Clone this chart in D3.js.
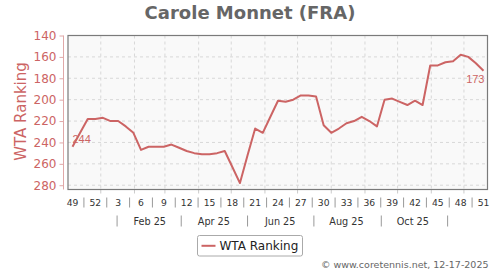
<!DOCTYPE html>
<html>
<head>
<meta charset="utf-8">
<script src="https://cdn.jsdelivr.net/npm/d3@7"></script>
<style>
  body { margin: 0; background: #fff; }
</style>
</head>
<body>
<div id="chart"></div>
<script>
var player = "Carole Monnet (FRA)";
var seriesName = "WTA Ranking";
var credit = "\u00a9 www.coretennis.net, 12-17-2025";

// ISO week numbers, one ranking per week (wk 49 2024 .. wk 51 2025)
var weeks = [49, 50, 51, 52, 1, 2, 3, 4, 5, 6, 7, 8, 9, 10, 11, 12, 13, 14, 15, 16,
  17, 18, 19, 20, 21, 22, 23, 24, 25, 26, 27, 28, 29, 30, 31, 32, 33, 34, 35, 36,
  37, 38, 39, 40, 41, 42, 43, 44, 45, 46, 47, 48, 49, 50, 51];
var ranking = [244, 231, 218, 218, 217, 220, 220, 225, 231, 247, 244, 244, 244, 242, 245, 248, 250, 251, 251, 250,
  248, 263, 278, 252, 227, 231, 216, 201, 202, 200, 196, 196, 197, 224, 231, 227, 222, 220, 216, 220,
  225, 200, 199, 202, 205, 201, 205, 168, 168, 165, 164, 158, 160, 166, 173];
var yTicks = [140, 160, 180, 200, 220, 240, 260, 280];
var monthLabels = ["2025-02", "2025-04", "2025-06", "2025-08", "2025-10"];

var w = 500, h = 270;
var col = "#cc6464";
var font = "DejaVu Sans, Verdana, sans-serif";

var svg = d3.select("#chart").append("svg").attr("width", w).attr("height", h);

var plot = {left: 68, right: 487.5, top: 35.5, bottom: 189.5};

var day = 864e5;
var firstDate = new Date(2024, 11, 6);
var dates = weeks.map(function(d, i) { return new Date(firstDate.getTime() + i * 7 * day); });
var lastDate = dates[dates.length - 1];

var x = d3.scaleTime()
  .domain([new Date(firstDate.getTime() - 4.14 * day), new Date(lastDate.getTime() + 3.68 * day)])
  .range([plot.left, plot.right]);
var y = d3.scaleLinear().domain([140, 284]).range([plot.top, plot.bottom]);

function disptext(tex, xx, yy, c, size, anchor, weight, fam) {
  return svg.append("text")
    .text(tex)
    .attr("x", xx)
    .attr("y", yy)
    .attr("fill", c)
    .attr("font-size", size)
    .attr("text-anchor", anchor || "start")
    .attr("font-weight", weight || "normal")
    .attr("font-family", fam || font);
}

// title
disptext(player, 250, 18.5, "#666", 18, "middle", "bold");

// plot background + grid
svg.append("rect")
  .attr("x", plot.left).attr("y", plot.top)
  .attr("width", plot.right - plot.left).attr("height", plot.bottom - plot.top)
  .attr("fill", "#f9f9f9");

var months = d3.timeMonth.range(new Date(2025, 0, 1), new Date(2025, 11, 2));
svg.selectAll(".vgrid").data(months).enter().append("line")
  .attr("x1", function(d) { return x(d); }).attr("x2", function(d) { return x(d); })
  .attr("y1", plot.top).attr("y2", plot.bottom)
  .attr("stroke", "#d8d8d8").attr("stroke-dasharray", "3,3");
svg.selectAll(".vtick").data(months).enter().append("line")
  .attr("x1", function(d) { return x(d); }).attr("x2", function(d) { return x(d); })
  .attr("y1", plot.bottom).attr("y2", plot.bottom + 4)
  .attr("stroke", "#ccc");

svg.selectAll(".hgrid").data(yTicks.slice(1)).enter().append("line")
  .attr("x1", plot.left).attr("x2", plot.right)
  .attr("y1", function(d) { return y(d); }).attr("y2", function(d) { return y(d); })
  .attr("stroke", "#d8d8d8").attr("stroke-dasharray", "3,3");

// the ranking line
var line = d3.line()
  .x(function(d, i) { return x(dates[i]); })
  .y(function(d) { return y(d); });
svg.append("path").datum(ranking)
  .attr("d", line)
  .attr("fill", "none")
  .attr("stroke", col)
  .attr("stroke-width", 2)
  .attr("stroke-linejoin", "round");

// first / last value labels
var n = ranking.length - 1;
disptext(ranking[0], x(dates[0]), y(ranking[0]) - 4, col, 11, "start", "normal", "Liberation Sans, Arial");
disptext(ranking[n], x(dates[n]) + 1, y(ranking[n]) + 12.6, col, 11, "end", "normal", "Liberation Sans, Arial");

// frame
svg.append("rect")
  .attr("x", plot.left).attr("y", plot.top)
  .attr("width", plot.right - plot.left).attr("height", plot.bottom - plot.top)
  .attr("fill", "none").attr("stroke", "#7a7a7a").attr("stroke-width", 1.2);

// y axis (offset to the left of the frame)
var yAxis = d3.axisLeft(y).tickValues(yTicks).tickSize(4).tickPadding(3);
var ga = svg.append("g").attr("transform", "translate(63.5,0)").call(yAxis);
ga.select(".domain").attr("stroke", "#e0a8a8").attr("d", "M0," + plot.top + "V" + plot.bottom);
ga.selectAll(".tick line").attr("stroke", "#e0a8a8");
ga.selectAll(".tick text").attr("fill", col).attr("font-size", 12).attr("font-family", font);

disptext(seriesName, 0, 0, col, 15, "middle")
  .attr("transform", "translate(26,111.5) rotate(-90)");

// week labels every 3 weeks, separated by pipes
var wkIdx = d3.range(0, weeks.length, 3);
svg.selectAll(".wk").data(wkIdx).enter().append("text")
  .text(function(i) { return weeks[i]; })
  .attr("x", function(i) { return x(dates[i]); })
  .attr("y", 205.7)
  .attr("text-anchor", "middle")
  .attr("font-size", 9.2)
  .attr("font-family", font)
  .attr("fill", "#333");
var sepIdx = wkIdx.slice(1);
svg.selectAll(".wksep").data(sepIdx).enter().append("line")
  .attr("x1", function(i) { return x(new Date(dates[i].getTime() - 10.5 * day)); })
  .attr("x2", function(i) { return x(new Date(dates[i].getTime() - 10.5 * day)); })
  .attr("y1", 197.5).attr("y2", 207.5)
  .attr("stroke", "#999");

// month row
var fmt = d3.timeFormat("%b %y");
var mParse = d3.timeParse("%Y-%m");
var mDates = monthLabels.map(function(s) { var d = mParse(s); return new Date(d.getFullYear(), d.getMonth(), 15); });
svg.selectAll(".mo").data(mDates).enter().append("text")
  .text(function(d) { return fmt(d); })
  .attr("x", function(d) { return x(d); })
  .attr("y", 225)
  .attr("text-anchor", "middle")
  .attr("font-size", 9.7)
  .attr("font-family", font)
  .attr("fill", "#333");
var mSep = [new Date(2025, 0, 16)].concat(mDates.map(function(d) { return new Date(d.getFullYear(), d.getMonth() + 1, 16); }));
svg.selectAll(".mosep").data(mSep).enter().append("line")
  .attr("x1", function(d) { return x(d); }).attr("x2", function(d) { return x(d); })
  .attr("y1", 215.5).attr("y2", 226.5)
  .attr("stroke", "#999");

// legend
svg.append("rect")
  .attr("x", 197.5).attr("y", 235.5).attr("width", 105).attr("height", 20.5)
  .attr("rx", 2).attr("fill", "#fff").attr("stroke", "#aaa");
svg.append("line")
  .attr("x1", 201.5).attr("x2", 215.5).attr("y1", 245.8).attr("y2", 245.8)
  .attr("stroke", col).attr("stroke-width", 2);
disptext(seriesName, 219.5, 249.8, "#222", 12, "start");

// credit
disptext(credit, 488.5, 267.8, "#666", 9.5, "end");
</script>
</body>
</html>
